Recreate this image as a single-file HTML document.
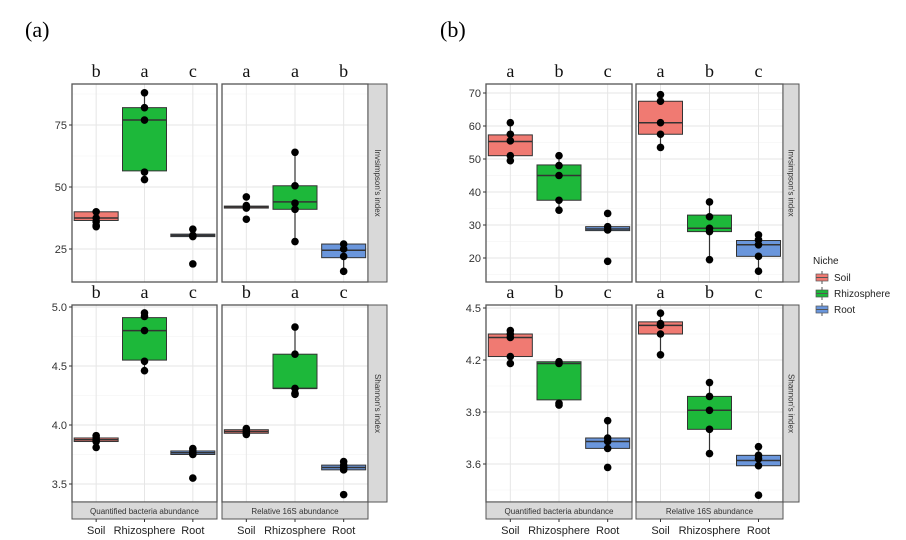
<!DOCTYPE html>
<html><head><meta charset="utf-8"><style>
body{margin:0;background:#fff}
svg{display:block;font-family:"Liberation Sans",sans-serif}
</style></head><body>
<svg id="c" width="906" height="540" viewBox="0 0 906 540">
<text x="25" y="37" font-family="Liberation Serif" font-size="22">(a)</text>
<text x="440" y="37" font-family="Liberation Serif" font-size="22">(b)</text>
<g>
<text x="813" y="264" font-size="10" fill="#222">Niche</text>
<g><line x1="822" x2="822" y1="271" y2="284" stroke="#555"/><rect x="816" y="274" width="12" height="7" fill="#f07a72" stroke="#555" stroke-width="0.7"/><line x1="816" x2="828" y1="277.5" y2="277.5" stroke="#555"/><text x="834" y="281" font-size="10" fill="#222">Soil</text></g>
<g><line x1="822" x2="822" y1="287" y2="300" stroke="#555"/><rect x="816" y="290" width="12" height="7" fill="#1db83a" stroke="#555" stroke-width="0.7"/><line x1="816" x2="828" y1="293.5" y2="293.5" stroke="#555"/><text x="834" y="297" font-size="10" fill="#222">Rhizosphere</text></g>
<g><line x1="822" x2="822" y1="303" y2="316" stroke="#555"/><rect x="816" y="306" width="12" height="7" fill="#6a96dc" stroke="#555" stroke-width="0.7"/><line x1="816" x2="828" y1="309.5" y2="309.5" stroke="#555"/><text x="834" y="313" font-size="10" fill="#222">Root</text></g>
</g>
</svg>
<script>
const categories=["Soil","Rhizosphere","Root"];
const colors=["#f07a72","#1db83a","#6a96dc"];
// letters per facet
const lettersAT1=["b","a","c"], lettersAT2=["a","a","b"], lettersAB1=["b","a","c"], lettersAB2=["b","a","c"];
const lettersBT1=["a","b","c"], lettersBT2=["a","b","c"], lettersBB1=["a","b","c"], lettersBB2=["a","b","c"];
// box stats [low whisker, q1, median, q3, high whisker]
const boxAT1=[[34,36.5,37.5,40,40],[53,56.5,77,82,88],[30,30,30.5,31,31]];
const boxAT2=[[41.5,41.5,42,42.3,42.3],[28,41,44,50.5,64],[16,21.5,24.5,27,27]];
const boxAB1=[[3.81,3.86,3.875,3.89,3.91],[4.46,4.55,4.80,4.91,4.95],[3.75,3.75,3.765,3.78,3.80]];
const boxAB2=[[3.92,3.93,3.945,3.96,3.97],[4.26,4.31,4.31,4.60,4.83],[3.62,3.62,3.64,3.66,3.69]];
const boxBT1=[[49.5,51,55.3,57.3,61],[34.5,37.5,45,48.2,51],[28.3,28.3,28.8,29.5,29.5]];
const boxBT2=[[53.5,57.5,61,67.5,69.5],[19.5,28,29,33,37],[16,20.5,24,25.3,27]];
const boxBB1=[[4.18,4.22,4.33,4.35,4.37],[3.94,3.97,4.18,4.19,4.19],[3.69,3.69,3.73,3.75,3.85]];
const boxBB2=[[4.23,4.35,4.40,4.42,4.47],[3.66,3.80,3.91,3.99,4.07],[3.59,3.59,3.62,3.65,3.70]];
// points
const ptsAT1=[[40,37.5,36,34.5,34],[88,82,77,56,53],[33,30.5,30,19]];
const ptsAT2=[[46,42.5,41.5,37],[64,50.5,43.5,41,28],[27,25,22,16]];
const ptsAB1=[[3.91,3.89,3.87,3.86,3.81],[4.95,4.92,4.80,4.54,4.46],[3.80,3.78,3.76,3.75,3.55]];
const ptsAB2=[[3.97,3.95,3.93,3.92],[4.83,4.60,4.31,4.27,4.26],[3.69,3.66,3.64,3.62,3.41]];
const ptsBT1=[[61,57.5,55.5,51,49.5],[51,48,45,37.5,34.5],[33.5,29.5,28.5,19]];
const ptsBT2=[[69.5,67.5,61,57.5,53.5],[37,32.5,29,28,19.5],[27,25.5,24,20.5,16]];
const ptsBB1=[[4.37,4.35,4.33,4.22,4.18],[4.19,4.18,3.95,3.94],[3.85,3.75,3.73,3.69,3.58]];
const ptsBB2=[[4.47,4.41,4.40,4.35,4.23],[4.07,3.99,3.91,3.80,3.66],[3.70,3.65,3.63,3.59,3.42]];
// tick labels
const ticksAT=[25,50,75], ticksAB=[3.5,4.0,4.5,5.0], ticksBT=[20,30,40,50,60,70], ticksBB=[3.6,3.9,4.2,4.5];
const tickFmtAB=["3.5","4.0","4.5","5.0"], tickFmtBB=["3.6","3.9","4.2","4.5"];

const svg=document.getElementById('c');const NS='http://www.w3.org/2000/svg';
function mk(t,a,p){const e=document.createElementNS(NS,t);for(const k in a)e.setAttribute(k,a[k]);(p||svg).appendChild(e);return e;}

function facet(o){
  const g=mk('g',{});
  
  
  const y=v=>o.y0+(v-o.v0)*(o.y1-o.y0)/(o.v1-o.v0);
  const bw=(o.x1-o.x0)/3;
  const x=i=>o.x0+bw*(i+0.5);
  const step=o.ticks[1]-o.ticks[0];
  for(let t=o.ticks[0]-step*2;t<=o.ticks[o.ticks.length-1]+step*2;t+=step/2){
    const yy=y(t);if(yy<o.py0||yy>o.py1)continue;
    const major=Math.abs(((t-o.ticks[0])/step)-Math.round((t-o.ticks[0])/step))<1e-6;
    mk('line',{x1:o.x0,x2:o.x1,y1:yy,y2:yy,stroke:major?'#e6e6e6':'#f2f2f2','stroke-width':major?1:0.6},g);
  }
  categories.forEach((c,i)=>mk('line',{x1:x(i),x2:x(i),y1:o.py0,y2:o.py1,stroke:'#e6e6e6'},g));
  o.box.forEach((b,i)=>{
    const bg=mk('g',{},g);
    
    
    const cx=x(i),hw=22;
    mk('line',{x1:cx,x2:cx,y1:y(b[0]),y2:y(b[4]),stroke:'#333','stroke-width':1.2},bg);
    const top=Math.min(y(b[1]),y(b[3])),h=Math.max(Math.abs(y(b[3])-y(b[1])),1.5);
    mk('rect',{x:cx-hw,y:top,width:hw*2,height:h,fill:colors[i],stroke:'#333','stroke-width':1},bg);
    mk('line',{x1:cx-hw,x2:cx+hw,y1:y(b[2]),y2:y(b[2]),stroke:'#333','stroke-width':1.5},bg);
    o.pts[i].forEach(v=>{const p=mk('circle',{cx:cx,cy:y(v),r:3.8,fill:'#000'},bg);
      });
    const l=mk('text',{x:cx,y:o.py0-7,'text-anchor':'middle','font-family':'Liberation Serif','font-size':18,fill:'#111'},g);
    l.textContent=o.letters[i];
    
  });
  mk('rect',{x:o.x0,y:o.py0,width:o.x1-o.x0,height:o.py1-o.py0,fill:'none',stroke:'#555','stroke-width':1.3},g);
  if(o.ticksShow){
    o.ticks.forEach((t,k)=>{const tl=mk('text',{x:o.x0-5,y:y(t)+4,'text-anchor':'end','font-size':11,fill:'#333'},g);
      tl.textContent=o.fmt?o.fmt[k]:t;
      
      mk('line',{x1:o.x0-3,x2:o.x0,y1:y(t),y2:y(t),stroke:'#333'},g);});
  }
  if(o.strip){
    const s=mk('rect',{x:o.x1,y:o.py0,width:o.sw,height:o.py1-o.py0,fill:'#d9d9d9',stroke:'#555','stroke-width':1},g);
    
    const cx=o.x1+o.sw/2,cy=(o.py0+o.py1)/2;
    const t=mk('text',{x:cx,y:cy,transform:`rotate(90 ${cx} ${cy})`,'text-anchor':'middle','dominant-baseline':'central','font-size':8,fill:'#333'},g);
    t.textContent=o.strip;
  }
  if(o.bstrip){
    const s=mk('rect',{x:o.x0,y:o.py1,width:o.x1-o.x0,height:17,fill:'#d9d9d9',stroke:'#555','stroke-width':1},g);
    
    const t=mk('text',{x:(o.x0+o.x1)/2,y:o.py1+12,'text-anchor':'middle','font-size':8,fill:'#333'},g);
    t.textContent=o.bstrip;
    categories.forEach((c,i)=>{const xl=mk('text',{x:x(i),y:o.py1+32,'text-anchor':'middle','font-size':11,fill:'#222'},g);
      xl.textContent=c;
      mk('line',{x1:x(i),x2:x(i),y1:o.py1+17,y2:o.py1+20,stroke:'#333'},g);});
  }
}
const aT={y0:187,v0:50,y1:125,v1:75,py0:84,py1:282,ticks:ticksAT};
const aB={y0:425,v0:4.0,y1:366,v1:4.5,py0:305,py1:502,ticks:ticksAB,fmt:tickFmtAB};
facet({...aT,name:'a-invsimpson-quantified',x0:72,x1:217,box:boxAT1,pts:ptsAT1,letters:lettersAT1,ticksShow:1});
facet({...aT,name:'a-invsimpson-relative',x0:222,x1:368,box:boxAT2,pts:ptsAT2,letters:lettersAT2,strip:"Invsimpson's index",sw:19});
facet({...aB,name:'a-shannon-quantified',x0:72,x1:217,box:boxAB1,pts:ptsAB1,letters:lettersAB1,ticksShow:1,bstrip:'Quantified bacteria abundance'});
facet({...aB,name:'a-shannon-relative',x0:222,x1:368,box:boxAB2,pts:ptsAB2,letters:lettersAB2,strip:"Shannon's index",sw:19,bstrip:'Relative 16S abundance'});
const bT={y0:159,v0:50,y1:126,v1:60,py0:84,py1:282,ticks:ticksBT};
const bB={y0:412,v0:3.9,y1:360,v1:4.2,py0:305,py1:502,ticks:ticksBB,fmt:tickFmtBB};
facet({...bT,name:'b-invsimpson-quantified',x0:486,x1:632,box:boxBT1,pts:ptsBT1,letters:lettersBT1,ticksShow:1});
facet({...bT,name:'b-invsimpson-relative',x0:636,x1:783,box:boxBT2,pts:ptsBT2,letters:lettersBT2,strip:"Invsimpson's index",sw:16});
facet({...bB,name:'b-shannon-quantified',x0:486,x1:632,box:boxBB1,pts:ptsBB1,letters:lettersBB1,ticksShow:1,bstrip:'Quantified bacteria abundance'});
facet({...bB,name:'b-shannon-relative',x0:636,x1:783,box:boxBB2,pts:ptsBB2,letters:lettersBB2,strip:"Shannon's index",sw:16,bstrip:'Relative 16S abundance'});
</script>
</body></html>
